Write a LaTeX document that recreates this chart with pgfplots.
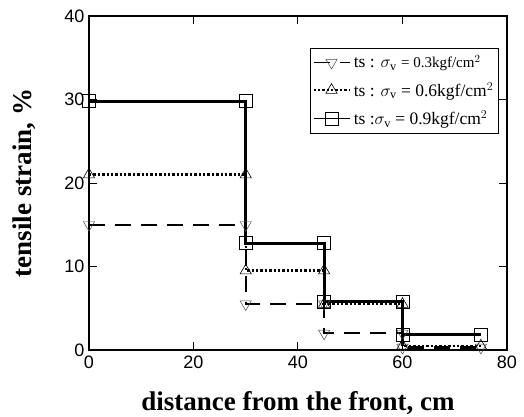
\documentclass[border=0pt]{standalone}
\usepackage{fontspec}
\setmainfont{Liberation Serif}
\newfontfamily\arial{Liberation Sans}
\usepackage{pgfplots}
\pgfplotsset{compat=1.18}
\begin{document}
\begin{tikzpicture}
\path[use as bounding box] (-89bp,-67bp) rectangle (435bp,350bp);
\begin{axis}[
    at={(0,0)}, anchor=south west,
    scale only axis,
    width=418bp, height=334bp,
    xmin=0, xmax=80, ymin=0, ymax=40,
    xtick={0,20,...,80}, ytick={0,10,...,40},
    tick pos=both,
    xticklabel pos=lower, yticklabel pos=left,
    tick align=inside,
    major tick length=8bp,
    axis line style={line width=1.3pt},
    every tick/.style={black, line width=1pt},
    /pgf/number format/assume math mode=true,
    tick label style={font=\arial\fontsize{18bp}{20bp}\selectfont},
    xticklabel style={yshift=-2bp},
    yticklabel style={xshift=-1bp},
    xlabel={\textbf{distance from the front, cm}},
    ylabel={\textbf{tensile strain, \%}},
    label style={font=\fontsize{27bp}{29bp}\selectfont},
    xlabel style={at={(axis description cs:0.5,-0.159)}, anchor=center},
    ylabel style={at={(axis description cs:-0.155,0.5)}, anchor=center},
    legend style={at={(0.529,0.904)}, anchor=north west, font=\fontsize{17.5bp}{19bp}\selectfont,
        draw=black, line width=1.2pt, row sep=9bp, inner xsep=2bp, inner ysep=5bp,
        nodes={inner xsep=3.5bp}},
    legend cell align=left,
    legend image code/.code={%
        \draw[mark repeat=2, mark phase=2, #1] plot coordinates {(0bp,0bp) (18bp,0bp) (36bp,0bp)};},
    legend image post style={line width=1.6pt},
]
\addplot[black, line width=2.2pt, dash pattern=on 16bp off 10bp,
    mark=triangle, mark options={solid, rotate=180, line width=0.5pt, fill=none, black!70}, mark size=6.5bp]
  coordinates {(0,15) (30,15) (30,5.5) (45,5.5) (45,2.0) (60,2.0) (60,0.3) (75,0.3)};
\addlegendentry{ts : $\sigma_{\mathrm{v}}$ {\fontsize{15bp}{17bp}\selectfont = 0.3kgf/cm$^2$}}
\addplot[black, line width=2.4pt, dotted,
    mark=triangle, mark options={solid, line width=0.6pt, fill=none}, mark size=6.5bp]
  coordinates {(0,21) (30,21) (30,9.5) (45,9.5) (45,5.5) (60,5.5) (60,0.5) (75,0.5)};
\addlegendentry{ts : $\sigma_{\mathrm{v}}$ = 0.6kgf/cm$^2$}
\addplot[black, line width=3pt,
    mark=square, mark options={solid, line width=0.6pt, fill=none}, mark size=6.5bp]
  coordinates {(0,29.8) (30,29.8) (30,12.8) (45,12.8) (45,5.8) (60,5.8) (60,1.8) (75,1.8)};
\addlegendentry{ts :$\sigma_{\mathrm{v}}$ = 0.9kgf/cm$^2$}
\end{axis}
\end{tikzpicture}
\end{document}
